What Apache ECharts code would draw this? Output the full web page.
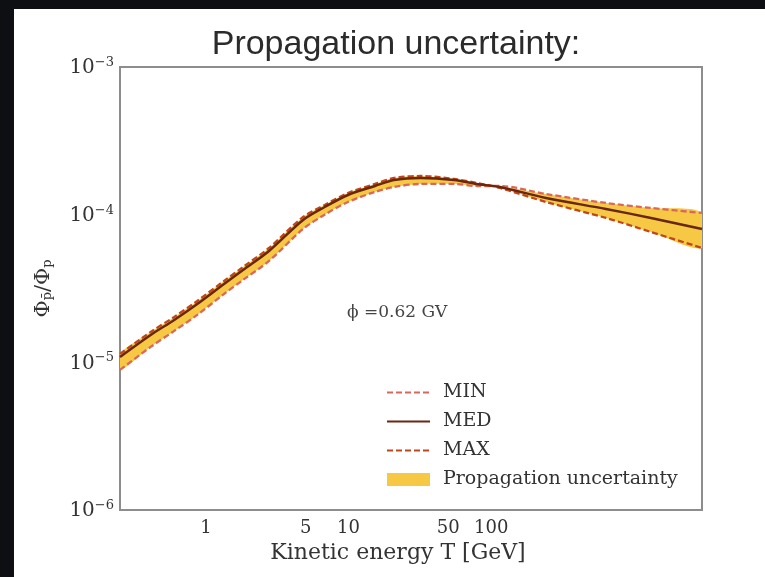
<!DOCTYPE html>
<html>
<head>
<meta charset="utf-8">
<script src="https://cdn.jsdelivr.net/npm/echarts@6/dist/echarts.min.js"></script>
<style>
html,body{margin:0;padding:0;width:765px;height:577px;background:#0e0f12;overflow:hidden;}
#chart{position:absolute;left:14px;top:9px;width:751px;height:568px;background:#ffffff;}
</style>
</head>
<body>
<div id="chart"></div>
<script>
// Kinetic energy T [GeV]
var energy = [0.25, 0.41, 0.6, 0.87, 1.34, 1.82, 2.77, 4.8, 6.8, 9.9, 15.3, 20.8, 32, 55, 79, 115, 242, 637, 1317, 3000];
// Phi_pbar / Phi_p for the three propagation models
var minVals = [8.88e-6, 1.272e-5, 1.632e-5, 2.094e-5, 2.904e-5, 3.613e-5, 4.86e-5, 8.0e-5, 1.0e-4, 1.219e-4, 1.425e-4, 1.539e-4, 1.614e-4, 1.614e-4, 1.564e-4, 1.564e-4, 1.38e-4, 1.2e-4, 1.11e-4, 1.027e-4];
var medVals = [1.088e-5, 1.533e-5, 1.937e-5, 2.485e-5, 3.394e-5, 4.22e-5, 5.68e-5, 9.21e-5, 1.127e-4, 1.359e-4, 1.564e-4, 1.717e-4, 1.772e-4, 1.717e-4, 1.614e-4, 1.539e-4, 1.297e-4, 1.093e-4, 9.5e-5, 8.0e-5];
var maxVals = [1.14e-5, 1.606e-5, 2.03e-5, 2.603e-5, 3.556e-5, 4.423e-5, 5.95e-5, 9.65e-5, 1.163e-4, 1.402e-4, 1.614e-4, 1.772e-4, 1.828e-4, 1.744e-4, 1.639e-4, 1.516e-4, 1.219e-4, 9.5e-5, 7.63e-5, 5.95e-5];
var xTickLabels = [1, 5, 10, 50, 100];
var yTicks = [1e-6, 1e-5, 1e-4, 1e-3];

var bandRows = energy.map(function(e, i){
  return [e, Math.min(minVals[i], medVals[i], maxVals[i]), Math.max(minVals[i], medVals[i], maxVals[i])];
});
function pairs(arr){ return energy.map(function(e, i){ return [e, arr[i]]; }); }

function renderBand(params, api){
  if (params.dataIndex !== 0) return null;
  var upper = [], lower = [];
  for (var i = 0; i < bandRows.length; i++) {
    upper.push(api.coord([bandRows[i][0], bandRows[i][2]]));
    lower.push(api.coord([bandRows[i][0], bandRows[i][1]]));
  }
  var pts = upper.concat(lower.reverse());
  var cs = params.coordSys;
  return {
    type: 'polygon',
    shape: {points: pts, smooth: 0.3, smoothConstraint: [[cs.x, cs.y], [cs.x + cs.width, cs.y + cs.height]]},
    style: {fill: '#f7c843', stroke: null}
  };
}

var serif = 'DejaVu Serif';
var chart = echarts.init(document.getElementById('chart'));
chart.setOption({
  animation: false,
  backgroundColor: '#ffffff',
  title: {
    text: 'Propagation uncertainty:',
    left: 377, top: 14, textAlign: 'center',
    textStyle: {fontFamily: 'Liberation Sans', fontSize: 34, fontWeight: 'normal', color: '#2b2b2b'}
  },
  grid: {left: 106, right: 63, top: 58, bottom: 67, show: true, borderColor: '#8d8d8d', borderWidth: 2, backgroundColor: 'transparent'},
  legend: {
    orient: 'vertical', left: 367, top: 369, itemGap: 10, itemWidth: 43, itemHeight: 13,
    textStyle: {fontFamily: serif, fontSize: 19, color: '#333', padding: [0, 0, 0, 8]},
    data: [
      {name: 'MIN', itemStyle: {opacity: 0}},
      {name: 'MED', itemStyle: {opacity: 0}},
      {name: 'MAX', itemStyle: {opacity: 0}},
      {name: 'Propagation uncertainty', icon: 'rect', itemStyle: {color: '#f7c843'}}
    ]
  },
  xAxis: {
    type: 'log', logBase: 10, min: 0.25, max: 3000,
    name: 'Kinetic energy T [GeV]', nameLocation: 'middle', nameGap: 32,
    nameTextStyle: {fontFamily: serif, fontSize: 22, color: '#333', padding: [0, 26, 0, 0]},
    axisLine: {show: false}, axisTick: {show: false}, splitLine: {show: false},
    axisLabel: {customValues: xTickLabels, fontFamily: serif, fontSize: 18, color: '#333', margin: 9,
      formatter: function(v){ return String(Math.round(v)); }}
  },
  yAxis: {
    type: 'log', logBase: 10, min: 1e-6, max: 1e-3,
    name: '{a|Φ}{s|p̄}{a|/Φ}{s|p}', nameLocation: 'middle', nameGap: 66, nameRotate: 90,
    nameTextStyle: {rich: {
      a: {fontFamily: serif, fontSize: 21, color: '#333'},
      s: {fontFamily: serif, fontSize: 13, color: '#333', verticalAlign: 'bottom', padding: [8, 0, 0, 0]}
    }},
    axisLine: {show: false}, axisTick: {show: false}, splitLine: {show: false},
    axisLabel: {customValues: yTicks, margin: 6,
      formatter: function(v){ return '{b|10}{e|' + String(Math.round(Math.log10(v))).replace('-', '−') + '}'; },
      rich: {
        b: {fontFamily: serif, fontSize: 20, color: '#333', verticalAlign: 'bottom'},
        e: {fontFamily: serif, fontSize: 13, color: '#333', verticalAlign: 'bottom', padding: [0, 0, 9, 0]}
      }}
  },
  graphic: [{
    type: 'text', left: 333, top: 295, z: 100,
    style: {text: 'ϕ =0.62 GV', fontFamily: serif, fontSize: 17, fill: '#444'}
  }],
  series: [
    {name: 'Propagation uncertainty', type: 'custom', renderItem: renderBand, data: bandRows,
     encode: {x: 0, y: [1, 2]}, itemStyle: {color: '#f7c843'}, z: 1, silent: true},
    {name: 'MIN', type: 'line', data: pairs(minVals), smooth: 0.3, symbol: 'none',
     lineStyle: {color: '#d9685a', width: 2.3, type: [6, 3]}, itemStyle: {color: '#d9685a'}, z: 3},
    {name: 'MED', type: 'line', data: pairs(medVals), smooth: 0.3, symbol: 'none',
     lineStyle: {color: '#6a2710', width: 2.5}, itemStyle: {color: '#6a2710'}, z: 4},
    {name: 'MAX', type: 'line', data: pairs(maxVals), smooth: 0.3, symbol: 'none',
     lineStyle: {color: '#c0461c', width: 2.3, type: [6, 3]}, itemStyle: {color: '#c0461c'}, z: 3}
  ]
});
</script>
</body>
</html>
